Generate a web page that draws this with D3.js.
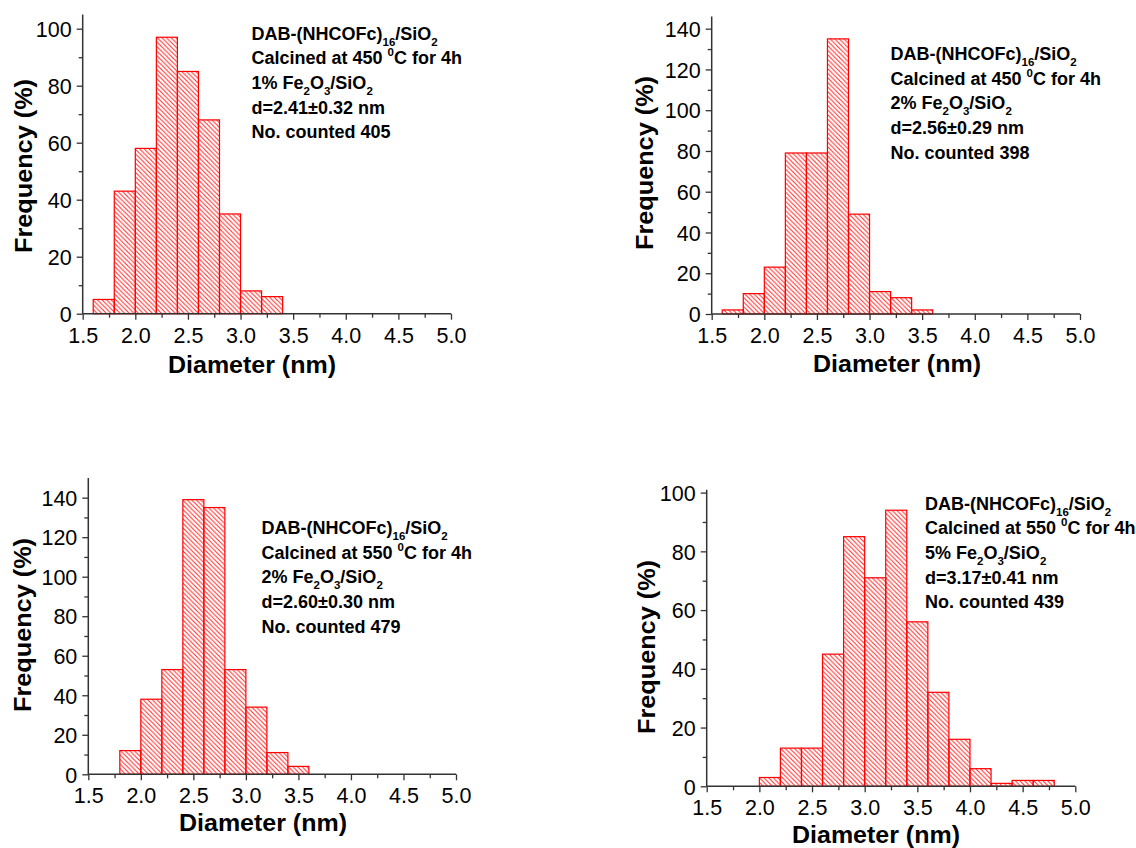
<!DOCTYPE html>
<html>
<head>
<meta charset="utf-8">
<script src="https://cdn.jsdelivr.net/npm/d3@7"></script>
<style>
  html, body { margin: 0; padding: 0; background: #fff; }
  svg { display: block; }
  text { font-family: "Liberation Sans", Arial, sans-serif; fill: #000; }
</style>
</head>
<body>
<svg id="chart" width="1136" height="848"></svg>
<script>
// ---------- DATA ----------
const binWidth = 0.2;

const binsA = [1.6, 1.8, 2.0, 2.2, 2.4, 2.6, 2.8, 3.0, 3.2];
const freqA = [5, 43, 58, 97, 85, 68, 35, 8, 6];

const binsB = [1.6, 1.8, 2.0, 2.2, 2.4, 2.6, 2.8, 3.0, 3.2, 3.4];
const freqB = [2, 10, 23, 79, 79, 135, 49, 11, 8, 2];

const binsC = [1.8, 2.0, 2.2, 2.4, 2.6, 2.8, 3.0, 3.2, 3.4];
const freqC = [12, 38, 53, 139, 135, 53, 34, 11, 4];

const binsD = [2.0, 2.2, 2.4, 2.6, 2.8, 3.0, 3.2, 3.4, 3.6, 3.8, 4.0, 4.2, 4.4, 4.6];
const freqD = [3, 13, 13, 45, 85, 71, 94, 56, 32, 16, 6, 1, 2, 2];

const xTicks = [1.5, 2.0, 2.5, 3.0, 3.5, 4.0, 4.5, 5.0];
const xMinorTicks = [1.75, 2.25, 2.75, 3.25, 3.75, 4.25, 4.75];
const yTicks100 = [0, 20, 40, 60, 80, 100];
const yTicks140 = [0, 20, 40, 60, 80, 100, 120, 140];
const yMinor100 = [10, 30, 50, 70, 90];
const yMinor140 = [10, 30, 50, 70, 90, 110, 130];

const xTitle = "Diameter (nm)";
const yTitle = "Frequency (%)";

// annotation lines: [text, kind]  kind: n normal, sub subscript, sup superscript
const noteA = [
  [["DAB-(NHCOFc)", "n"], ["16", "sub"], ["/SiO", "n"], ["2", "sub"]],
  [["Calcined at 450 ", "n"], ["0", "sup"], ["C for 4h", "n"]],
  [["1% Fe", "n"], ["2", "sub"], ["O", "n"], ["3", "sub"], ["/SiO", "n"], ["2", "sub"]],
  [["d=2.41±0.32 nm", "n"]],
  [["No. counted 405", "n"]]
];
const noteB = [
  [["DAB-(NHCOFc)", "n"], ["16", "sub"], ["/SiO", "n"], ["2", "sub"]],
  [["Calcined at 450 ", "n"], ["0", "sup"], ["C for 4h", "n"]],
  [["2% Fe", "n"], ["2", "sub"], ["O", "n"], ["3", "sub"], ["/SiO", "n"], ["2", "sub"]],
  [["d=2.56±0.29 nm", "n"]],
  [["No. counted 398", "n"]]
];
const noteC = [
  [["DAB-(NHCOFc)", "n"], ["16", "sub"], ["/SiO", "n"], ["2", "sub"]],
  [["Calcined at 550 ", "n"], ["0", "sup"], ["C for 4h", "n"]],
  [["2% Fe", "n"], ["2", "sub"], ["O", "n"], ["3", "sub"], ["/SiO", "n"], ["2", "sub"]],
  [["d=2.60±0.30 nm", "n"]],
  [["No. counted 479", "n"]]
];
const noteD = [
  [["DAB-(NHCOFc)", "n"], ["16", "sub"], ["/SiO", "n"], ["2", "sub"]],
  [["Calcined at 550 ", "n"], ["0", "sup"], ["C for 4h", "n"]],
  [["5% Fe", "n"], ["2", "sub"], ["O", "n"], ["3", "sub"], ["/SiO", "n"], ["2", "sub"]],
  [["d=3.17±0.41 nm", "n"]],
  [["No. counted 439", "n"]]
];

// ---------- LAYOUT ----------
const panels = [
  { bins: binsA, freq: freqA, yMax: 105, yTicks: yTicks100, yMinor: yMinor100, note: noteA,
    x0: 82.7, x1: 451, y0: 313.7, yPxPerUnit: 2.85,
    yLab: [23, 166], xLab: [252, 373], noteXY: [251.5, 39.5] },
  { bins: binsB, freq: freqB, yMax: 146, yTicks: yTicks140, yMinor: yMinor140, note: noteB,
    x0: 711.7, x1: 1080, y0: 314, yPxPerUnit: 2.038,
    yLab: [644, 163], xLab: [897, 372], noteXY: [890.5, 60] },
  { bins: binsC, freq: freqC, yMax: 150, yTicks: yTicks140, yMinor: yMinor140, note: noteC,
    x0: 88.3, x1: 456, y0: 774.3, yPxPerUnit: 1.976,
    yLab: [22, 625], xLab: [263, 831], noteXY: [261.5, 534] },
  { bins: binsD, freq: freqD, yMax: 101, yTicks: yTicks100, yMinor: yMinor100, note: noteD,
    x0: 706.7, x1: 1075.3, y0: 786.3, yPxPerUnit: 2.937,
    yLab: [646, 647], xLab: [876, 843], noteXY: [925, 509.5] }
];

const svg = d3.select("#chart");
const defs = svg.append("defs");
const s = 4.6;
const pat = defs.append("pattern")
  .attr("id", "hatch")
  .attr("patternUnits", "userSpaceOnUse")
  .attr("width", s).attr("height", s);
pat.append("path")
  .attr("d", `M0,0 L${s},${s} M${-1},${s - 1} L1,${s + 1} M${s - 1},-1 L${s + 1},1`)
  .attr("stroke", "#ff2a2a")
  .attr("stroke-width", 1)
  .attr("fill", "none");

const axisColor = "#333";

panels.forEach(p => {
  const x = d3.scaleLinear().domain([1.5, 5.0]).range([p.x0, p.x1]);
  const y = d3.scaleLinear().domain([0, p.yMax]).range([p.y0, p.y0 - p.yMax * p.yPxPerUnit]);
  const g = svg.append("g");

  // bars
  const data = p.bins.map((b, i) => ({ b, v: p.freq[i] }));
  g.selectAll("rect.bar").data(data).enter().append("rect")
    .attr("class", "bar")
    .attr("x", d => x(d.b))
    .attr("y", d => y(d.v))
    .attr("width", d => x(d.b + binWidth) - x(d.b))
    .attr("height", d => y(0) - y(d.v))
    .attr("fill", "url(#hatch)")
    .attr("stroke", "#ff0000")
    .attr("stroke-width", 1.2);

  // x axis
  const xAxis = d3.axisBottom(x).tickValues(xTicks).tickFormat(d3.format(".1f"))
    .tickSize(6).tickPadding(4);
  const gx = g.append("g").attr("transform", `translate(0,${p.y0})`).call(xAxis);
  gx.select(".domain").attr("stroke", axisColor).attr("stroke-width", 1.5)
    .attr("d", `M${p.x0},0H${p.x1}`);
  gx.selectAll(".tick line").attr("stroke", axisColor).attr("stroke-width", 1.3);
  gx.selectAll(".tick text").attr("font-size", 21.5).attr("fill", "#000")
    .attr("font-family", '"Liberation Sans", Arial, sans-serif')
    .attr("y", 29).attr("dy", 0);
  const xMinor = d3.axisBottom(x).tickValues(xMinorTicks).tickSize(4).tickFormat("");
  const gxm = g.append("g").attr("transform", `translate(0,${p.y0})`).call(xMinor);
  gxm.select(".domain").remove();
  gxm.selectAll(".tick line").attr("stroke", axisColor).attr("stroke-width", 1.3);

  // y axis
  const yAxis = d3.axisLeft(y).tickValues(p.yTicks).tickFormat(d3.format("d"))
    .tickSize(6).tickPadding(5);
  const gy = g.append("g").attr("transform", `translate(${p.x0},0)`).call(yAxis);
  gy.select(".domain").attr("stroke", axisColor).attr("stroke-width", 1.5)
    .attr("d", `M0,${y(p.yMax)}V${p.y0}`);
  gy.selectAll(".tick line").attr("stroke", axisColor).attr("stroke-width", 1.3);
  gy.selectAll(".tick text").attr("font-size", 21.5).attr("fill", "#000")
    .attr("font-family", '"Liberation Sans", Arial, sans-serif')
    .attr("dy", "0.36em");
  const yMinorAx = d3.axisLeft(y).tickValues(p.yMinor).tickSize(4).tickFormat("");
  const gym = g.append("g").attr("transform", `translate(${p.x0},0)`).call(yMinorAx);
  gym.select(".domain").remove();
  gym.selectAll(".tick line").attr("stroke", axisColor).attr("stroke-width", 1.3);

  // axis titles
  g.append("text")
    .attr("x", p.xLab[0]).attr("y", p.xLab[1])
    .attr("text-anchor", "middle")
    .attr("font-size", 24).attr("font-weight", "bold")
    .attr("textLength", 168).attr("lengthAdjust", "spacingAndGlyphs")
    .text(xTitle);
  g.append("text")
    .attr("transform", `translate(${p.yLab[0]},${p.yLab[1]}) rotate(-90)`)
    .attr("text-anchor", "middle").attr("dy", "0.36em")
    .attr("font-size", 24).attr("font-weight", "bold")
    .attr("textLength", 174).attr("lengthAdjust", "spacingAndGlyphs")
    .text(yTitle);

  // annotation
  const lineH = 24.7;
  p.note.forEach((line, li) => {
    const t = g.append("text")
      .attr("x", p.noteXY[0]).attr("y", p.noteXY[1] + li * lineH)
      .attr("font-size", 18).attr("font-weight", "bold");
    let cum = 0;
    line.forEach(([str, kind]) => {
      const target = kind === "sub" ? 6 : kind === "sup" ? -8 : 0;
      const ts = t.append("tspan").text(str).attr("dy", target - cum);
      if (kind !== "n") ts.attr("font-size", 11.5);
      cum = target;
    });
  });
});
</script>
</body>
</html>
